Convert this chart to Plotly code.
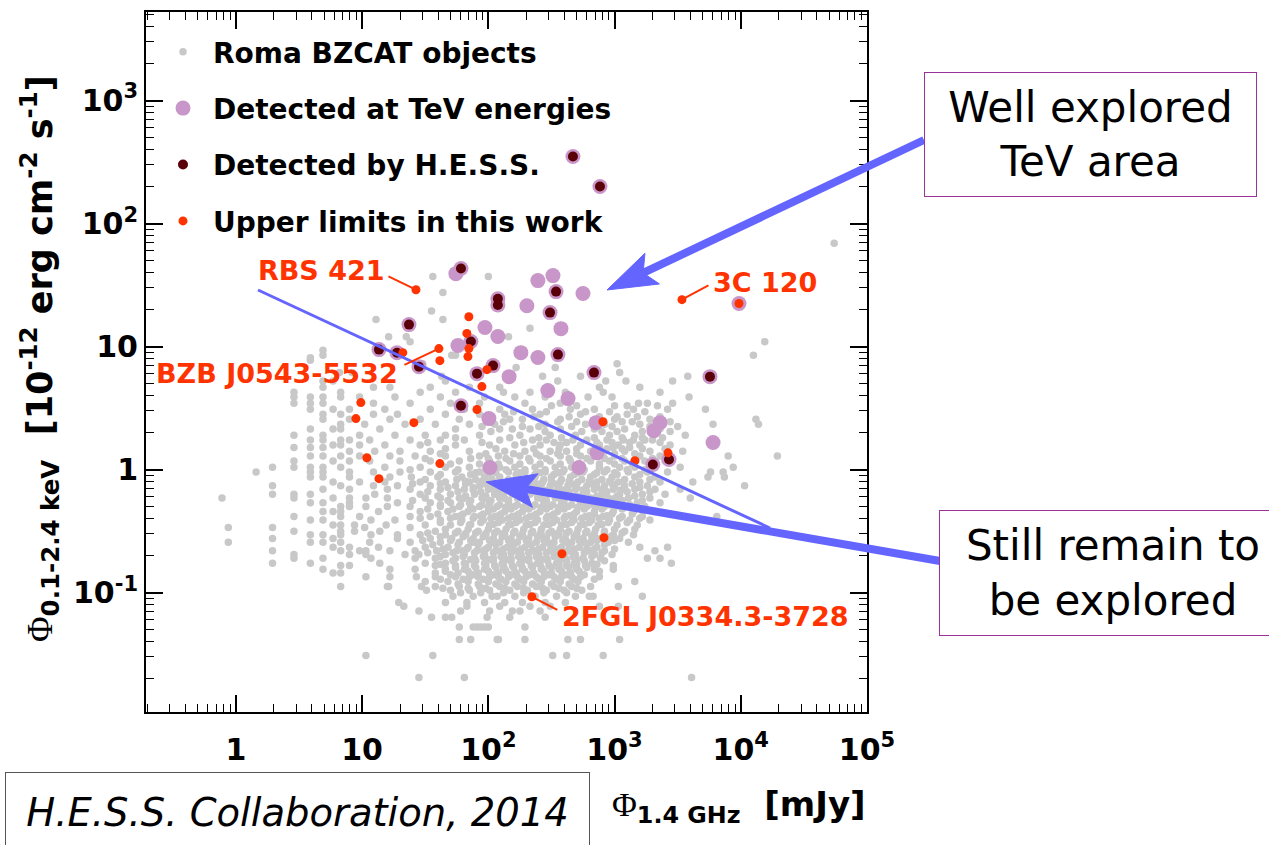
import math
import plotly.graph_objects as go

# ---------------------------------------------------------------------------
# Data: 1.4 GHz radio flux [mJy] vs 0.1-2.4 keV X-ray flux [1e-12 erg/cm2/s]
# ---------------------------------------------------------------------------

# Roma BZCAT catalogue, stored as rows of (log10 X-ray flux, [log10 radio flux, ...])
GREY_SPARSE = [
    (1.84, [4.74]),
    (1.57, [1.56, 2.00]),
    (1.44, [1.64]),
    (1.29, [1.55]),
    (1.22, [1.11, 1.64]),
    (1.15, [2.33]),
    (1.08, [1.21, 1.35, 2.16]),
    (1.04, [1.38, 4.19]),
    (0.97, [0.69]),
    (0.93, [0.69, 1.71, 1.74, 4.10]),
    (0.91, [0.59]),
    (0.89, [0.59]),
    (0.86, [1.48, 3.02]),
    (0.83, [2.22, 2.53]),
    (0.79, [0.82, 0.92, 3.04]),
    (0.76, [1.63, 2.43, 2.73, 3.58]),
    (0.72, [0.69, 0.77, 1.66, 2.55, 2.93, 3.09, 3.46]),
]

GREY_UPPER = [
    (0.67, [0.69, 1.09, 1.22, 1.54, 1.85, 2.09, 2.47, 2.88, 3.20]),
    (0.63, [0.46, 0.83, 1.46, 1.74, 2.12, 2.33, 2.61, 2.91, 3.36]),
    (0.59, [0.46, 0.59, 0.69, 0.83, 0.98, 1.26, 1.62, 1.97, 2.21, 2.45, 2.79, 2.98, 3.59]),
    (0.54, [0.46, 0.59, 0.69, 1.09, 1.38, 1.70, 1.93, 2.29, 2.57, 3.19, 3.26, 3.46]),
    (0.49, [0.59, 0.77, 0.90, 1.18, 1.54, 1.81, 2.09, 2.35, 2.65, 2.84, 3.15, 3.42, 3.72]),
    (0.45, [0.69, 0.83, 1.09, 1.28, 1.66, 1.93, 2.13, 2.41, 2.73, 3.10]),
    (0.41, [0.69, 0.90, 1.22, 1.46, 1.77, 2.17, 2.27, 2.57, 3.00, 3.28, 4.12]),
    (0.37, [0.83, 1.02, 1.34, 1.58, 1.85, 2.05, 2.45, 2.77, 2.92, 3.20, 3.78, 4.14]),
    (0.33, [0.59, 0.77, 0.83, 1.14, 1.74, 2.09, 2.19, 2.33, 2.57, 2.84, 3.08, 3.36]),
    (0.28, [0.46, 0.69, 0.98, 1.26, 1.50, 1.66, 1.93, 2.25, 2.49, 2.69, 2.96, 3.16, 3.56]),
    (0.24, [0.59, 0.69, 0.83, 0.90, 1.06, 1.38, 1.62, 1.81, 2.09, 2.35, 2.46, 2.67, 2.78,
            2.94, 3.07, 3.15, 3.24, 3.30]),
    (0.20, [0.77, 0.83, 0.98, 1.18, 1.46, 1.74, 2.01, 2.21, 2.41, 2.57, 2.73, 2.88, 3.03,
            3.20, 3.44]),
    (0.18, [0.46, 0.59, 0.69, 2.99, 3.12]),
    (0.15, [0.90, 1.10, 1.30, 1.54, 1.85, 2.13, 2.29, 2.49, 2.62, 2.81, 2.92, 3.08, 3.28, 3.54]),
    (0.11, [0.59, 0.69, 0.83, 0.98, 1.22, 1.42, 1.66, 1.93, 2.08, 2.25, 2.41, 2.57, 2.73,
            2.86, 3.00, 3.20, 3.36, 3.90, 4.29]),
    (0.07, [0.46, 0.77, 0.90, 1.06, 1.30, 1.54, 1.77, 2.01, 2.17, 2.33, 2.49, 2.65, 2.81,
            2.96, 3.08, 3.24, 3.40]),
]

# Additional sources in the upper part of the cloud
GREY_UPPER_FILL = [
    (0.52, [2.50, 2.70, 3.00, 3.10, 3.34]),
    (0.47, [2.20, 2.46, 2.77, 2.96, 3.24]),
    (0.43, [2.03, 2.36, 2.64, 2.88, 3.02, 3.18, 3.36]),
    (0.39, [2.12, 2.55, 2.70, 3.06, 3.14, 3.44]),
    (0.35, [1.95, 2.27, 2.40, 2.66, 2.98, 3.28, 3.50]),
    (0.31, [2.02, 2.45, 2.74, 2.90, 3.02, 3.22, 3.44]),
    (0.26, [1.74, 2.17, 2.40, 2.58, 2.84, 3.06, 3.22, 3.38]),
    (0.22, [1.52, 1.95, 2.28, 2.52, 2.62, 2.86, 2.98, 3.12, 3.36]),
    (0.17, [1.66, 2.06, 2.36, 2.56, 2.70, 2.94, 3.06, 3.22, 3.40]),
]

GREY_MIDDLE = [
    (0.02, [0.29, 0.46, 0.59, 0.69, 0.83, 1.18, 1.46, 1.66, 1.85, 2.09, 2.21, 2.37, 2.53,
            2.66, 2.88, 3.04, 3.16, 3.32, 3.52, 3.94]),
    (-0.02, [0.16, 0.59, 0.69, 0.90, 1.09, 1.30, 1.54, 1.74, 1.93, 2.03, 2.16, 2.29, 2.45,
             2.59, 2.75, 2.92, 3.11, 3.26, 3.42, 3.76, 3.86]),
    (-0.06, [0.59, 0.69, 0.90, 1.22, 1.39, 1.60, 1.79, 1.97, 2.09, 2.23, 2.37, 2.50, 2.65,
             2.81, 2.98, 3.16, 3.32, 3.74, 3.87]),
    (-0.10, [0.77, 0.98, 1.18, 1.46, 1.66, 1.85, 2.01, 2.15, 2.29, 2.43, 2.57, 2.71, 2.86,
             3.03, 3.20, 3.36, 3.62]),
    (-0.13, [0.29, 0.83, 1.09, 1.28, 1.54, 1.74, 1.93, 2.07, 2.21, 2.35, 2.49, 2.63, 2.78,
             2.92, 3.08, 3.26, 4.03]),
    (-0.16, [0.69, 0.90, 1.20, 1.38, 1.62, 1.81, 2.00, 2.13, 2.27, 2.41, 2.55, 2.69, 2.84,
             2.99, 3.16, 3.32, 3.52]),
    (-0.20, [0.29, 0.46, 0.59, 1.10, 1.46, 1.70, 1.89, 2.05, 2.19, 2.33, 2.47, 2.61, 2.75,
             2.90, 3.04, 3.22, 3.40]),
    (-0.23, [-0.11, 0.46, 0.77, 0.90, 1.03, 1.20, 1.50, 1.62, 1.77, 1.95, 2.09, 2.23, 2.39,
             2.53, 2.66, 2.81, 2.95, 3.11, 3.28, 3.60]),
    (-0.27, [0.59, 0.69, 0.90, 1.28, 1.54, 1.70, 1.85, 2.01, 2.16, 2.30, 2.44, 2.58, 2.73,
             2.87, 3.02, 3.18, 3.36]),
    (-0.30, [0.83, 0.90, 1.03, 1.20, 1.38, 1.62, 1.77, 1.93, 2.07, 2.21, 2.35, 2.49, 2.63,
             2.78, 2.92, 3.08, 3.24]),
    (-0.34, [0.69, 0.77, 0.83, 1.13, 1.46, 1.68, 1.84, 2.00, 2.13, 2.27, 2.41, 2.55, 2.70,
             2.84, 2.99, 3.15, 3.32]),
    (-0.38, [0.46, 0.83, 0.98, 1.38, 1.54, 1.74, 1.89, 2.05, 2.19, 2.33, 2.47, 2.61, 2.77,
             2.91, 3.06, 3.22, 3.81]),
    (-0.41, [0.59, 0.69, 1.07, 1.26, 1.62, 1.79, 1.96, 2.11, 2.25, 2.39, 2.54, 2.68, 2.82,
             2.96, 3.12, 3.28]),
    (-0.45, [0.77, 0.83, 0.94, 1.19, 1.50, 1.70, 1.85, 2.01, 2.16, 2.30, 2.44, 2.58, 2.73,
             2.87, 3.02, 3.18]),
    (-0.47, [-0.06, 0.29, 1.02, 1.38]),
    (-0.50, [0.46, 0.83, 0.94, 1.14, 1.58, 1.76, 1.92, 2.07, 2.21, 2.35, 2.50, 2.64, 2.78,
             2.92, 3.08]),
]

GREY_LOWER = [
    (-0.53, [0.59, 0.69, 0.83, 1.07, 1.28, 1.46, 1.66, 1.82, 1.98, 2.13, 2.27, 2.42, 2.56,
             2.70, 2.84, 2.99, 3.15]),
    (-0.56, [0.29, 0.77, 1.28, 1.54, 1.71, 1.88, 2.04, 2.18, 2.32, 2.46, 2.61, 2.75, 2.89,
             3.04]),
    (-0.59, [-0.06, 0.59, 0.69, 0.83, 1.06, 1.38, 1.62, 1.77, 1.93, 2.09, 2.23, 2.38, 2.52,
             2.66, 2.81, 2.95, 3.11]),
    (-0.63, [0.77, 0.90, 1.13, 1.50, 1.68, 1.84, 2.00, 2.15, 2.29, 2.43, 2.58, 2.72, 2.86,
             3.20, 3.42]),
    (-0.66, [0.29, 0.83, 0.98, 1.03, 1.22, 1.42, 1.59, 1.75, 1.91, 2.06, 2.20, 2.35, 2.49,
             2.63, 2.77, 2.92, 3.32]),
    (-0.69, [0.46, 0.90, 1.03, 1.34, 1.45, 1.66, 1.81, 1.97, 2.12, 2.26, 2.40, 2.54, 2.69,
             2.84, 2.98]),
    (-0.72, [0.46, 0.69, 1.07, 1.42, 1.58, 1.74, 1.89, 2.04, 2.18, 2.32, 2.46, 2.61, 2.75,
             2.89, 3.26, 3.36]),
    (-0.76, [0.29, 0.59, 1.14, 1.50, 1.66, 1.81, 1.97, 2.11, 2.25, 2.39, 2.54, 2.68, 2.82,
             3.45]),
    (-0.78, [0.83, 0.90, 1.58, 1.74, 1.89, 2.05, 2.19, 2.34, 2.48, 2.62, 2.77, 2.99]),
    (-0.81, [0.69, 1.22, 1.42, 1.66, 1.81, 1.97, 2.13, 2.27, 2.42, 2.56, 2.70, 2.84, 2.99]),
    (-0.84, [0.77, 0.83, 1.58, 1.76, 1.92, 2.08, 2.22, 2.36, 2.50, 2.65]),
    (-0.87, [1.03, 1.22, 1.43, 1.58, 1.74, 1.85, 2.01, 2.16, 2.30, 2.44, 2.58, 2.73, 2.88]),
    (-0.91, [1.50, 1.68, 1.84, 2.00, 2.14, 2.28, 2.42, 2.57, 2.71, 3.16]),
    (-0.95, [0.83, 1.20, 1.21, 1.47, 1.58, 1.77, 1.93, 2.09, 2.23, 2.38, 2.52, 2.66, 2.81,
             3.03]),
    (-0.98, [1.51, 1.70, 1.85, 2.01, 2.17, 2.31, 2.46, 2.60, 2.74]),
    (-1.03, [1.72, 1.88, 2.03, 2.07, 2.21, 2.37, 2.54, 2.69, 2.80, 2.83, 3.22]),
    (-1.08, [1.29, 1.66, 1.83, 1.97, 2.13, 2.27, 2.45, 2.61]),
    (-1.11, [1.33, 1.83, 2.09, 2.33, 2.49, 2.88, 3.03]),
    (-1.15, [1.45, 1.78, 2.01, 2.19, 2.25, 2.41]),
    (-1.20, [1.55, 1.66, 1.71, 1.99, 2.17, 2.45]),
    (-1.28, [1.77, 1.88, 1.91, 1.94, 1.97, 2.00, 2.29]),
    (-1.38, [1.77, 1.86, 2.07, 2.08, 2.29, 2.63, 2.73, 3.04]),
    (-1.51, [1.03, 1.56, 2.51, 2.62, 2.91]),
    (-1.69, [1.45, 1.81, 3.61]),
]

# Densely populated centre of the catalogue
GREY_CORE = [
    (0.13, [1.62, 1.98, 2.20, 2.38, 2.55, 2.70, 2.85, 3.00, 3.16]),
    (0.09, [1.50, 1.86, 2.00, 2.14, 2.32, 2.46, 2.64, 2.78, 2.92, 3.06, 3.30]),
    (0.045, [1.70, 1.93, 2.08, 2.25, 2.41, 2.57, 2.72, 2.88, 3.00, 3.14]),
    (0.00, [1.38, 1.76, 1.98, 2.14, 2.29, 2.45, 2.60, 2.76, 2.94, 3.10, 3.24]),
    (-0.04, [1.62, 1.86, 2.00, 2.22, 2.37, 2.52, 2.68, 2.84, 3.02, 3.20]),
    (-0.08, [1.50, 1.75, 1.90, 2.03, 2.16, 2.30, 2.44, 2.58, 2.74, 2.90, 3.08, 3.28]),
    (-0.115, [1.40, 1.62, 1.82, 1.97, 2.10, 2.24, 2.38, 2.52, 2.66, 2.82, 2.98, 3.14]),
    (-0.145, [1.68, 1.88, 2.02, 2.15, 2.28, 2.42, 2.56, 2.70, 2.86, 3.00, 3.20]),
    (-0.18, [1.52, 1.76, 1.94, 2.08, 2.22, 2.36, 2.50, 2.64, 2.78, 2.94, 3.10, 3.28]),
    (-0.215, [1.60, 1.82, 1.98, 2.12, 2.26, 2.40, 2.55, 2.70, 2.86, 3.02, 3.16]),
    (-0.25, [1.40, 1.68, 1.86, 2.02, 2.16, 2.30, 2.46, 2.60, 2.75, 2.90, 3.06, 3.22]),
    (-0.285, [1.62, 1.78, 1.95, 2.09, 2.23, 2.37, 2.51, 2.66, 2.80, 2.96, 3.12]),
    (-0.32, [1.52, 1.72, 1.88, 2.04, 2.18, 2.32, 2.46, 2.60, 2.76, 2.90, 3.06, 3.22]),
    (-0.36, [1.60, 1.80, 1.96, 2.10, 2.24, 2.38, 2.52, 2.68, 2.84, 2.98, 3.14]),
    (-0.395, [1.46, 1.70, 1.88, 2.02, 2.16, 2.30, 2.46, 2.60, 2.74, 2.88, 3.04, 3.20]),
    (-0.43, [1.62, 1.78, 1.94, 2.08, 2.22, 2.37, 2.51, 2.66, 2.80, 2.95, 3.10]),
    (-0.485, [1.66, 1.84, 2.00, 2.14, 2.28, 2.42, 2.57, 2.71, 2.85, 3.00, 3.16]),
    (-0.515, [1.52, 1.74, 1.90, 2.05, 2.20, 2.34, 2.48, 2.62, 2.77, 2.92, 3.06]),
    (-0.545, [1.62, 1.80, 1.96, 2.11, 2.25, 2.39, 2.53, 2.68, 2.82, 2.97]),
    (-0.575, [1.48, 1.70, 1.86, 2.01, 2.16, 2.30, 2.44, 2.59, 2.72, 2.86, 3.00]),
    (-0.61, [1.56, 1.76, 1.92, 2.06, 2.20, 2.34, 2.49, 2.64, 2.78, 2.92]),
    (-0.645, [1.64, 1.83, 1.98, 2.12, 2.26, 2.40, 2.54, 2.68, 2.84, 3.00]),
    (-0.675, [1.52, 1.72, 1.89, 2.04, 2.18, 2.32, 2.46, 2.61, 2.76, 2.90]),
    (-0.705, [1.62, 1.80, 1.96, 2.10, 2.24, 2.38, 2.52, 2.67, 2.82]),
    (-0.74, [1.72, 1.90, 2.04, 2.18, 2.32, 2.47, 2.62, 2.76, 2.92]),
    (-0.77, [1.62, 1.82, 1.98, 2.12, 2.26, 2.41, 2.56, 2.70, 2.86]),
    (-0.795, [1.74, 1.90, 2.06, 2.20, 2.35, 2.50, 2.64, 2.78]),
    (-0.825, [1.66, 1.84, 2.00, 2.14, 2.29, 2.44, 2.58, 2.72, 2.88]),
    (-0.855, [1.70, 1.88, 2.04, 2.18, 2.33, 2.48, 2.62, 2.76]),
    (-0.89, [1.62, 1.80, 1.96, 2.10, 2.25, 2.40, 2.54, 2.68, 2.84]),
    (-0.93, [1.76, 1.92, 2.06, 2.21, 2.35, 2.50, 2.64]),
    (-0.965, [1.64, 1.84, 1.98, 2.13, 2.28, 2.43, 2.56, 2.70]),
    (-1.00, [1.78, 1.94, 2.12, 2.28, 2.44, 2.62]),
]

GREY_CORE_DENSE = [
    (-0.025, [1.90, 2.06, 2.25, 2.41, 2.56, 2.71, 2.86, 3.00]),
    (-0.095, [1.82, 1.95, 2.09, 2.23, 2.36, 2.50, 2.64, 2.80, 2.96]),
    (-0.165, [1.88, 2.05, 2.18, 2.32, 2.47, 2.60, 2.75, 2.90, 3.05]),
    (-0.235, [1.80, 1.98, 2.13, 2.28, 2.42, 2.57, 2.72, 2.86, 3.00]),
    (-0.305, [1.86, 2.00, 2.14, 2.28, 2.42, 2.56, 2.71, 2.85, 3.00]),
    (-0.375, [1.78, 1.94, 2.08, 2.22, 2.36, 2.50, 2.64, 2.80, 2.94]),
    (-0.445, [1.86, 2.04, 2.18, 2.33, 2.48, 2.62, 2.76, 2.90]),
    (-0.52, [1.82, 1.98, 2.12, 2.27, 2.41, 2.55, 2.70, 2.84]),
    (-0.59, [1.88, 2.03, 2.18, 2.32, 2.47, 2.62, 2.76]),
    (-0.66, [1.80, 1.96, 2.10, 2.24, 2.38, 2.52, 2.66, 2.80]),
    (-0.73, [1.86, 2.00, 2.14, 2.28, 2.42, 2.57, 2.70]),
    (-0.80, [1.82, 1.98, 2.12, 2.27, 2.42, 2.56, 2.70]),
    (-0.87, [1.92, 2.08, 2.23, 2.38, 2.52, 2.66]),
]

# Sources detected at TeV energies
TEV_RADIO = [468, 766, 60.7, 55.3, 247, 325, 344, 562, 119, 119, 202, 308, 94, 119, 376,
             9680, 23.5, 72.8, 57.4, 13.6, 18.9, 28.2, 109, 81.3, 181, 247, 356, 146, 687,
             5700, 296, 428, 60.7, 101, 713, 2290, 2050, 6030, 726, 2010, 2700, 103, 522]
TEV_XRAY = [351, 200, 43.1, 39.2, 34.4, 37.8, 28.0, 27.0, 24.5, 21.8, 21.5, 18.9, 14.3,
            12.1, 14.0, 22.4, 15.1, 11.0, 10.2, 9.46, 8.93, 6.87, 7.01, 6.03, 8.93, 8.15,
            8.61, 5.70, 6.15, 5.70, 4.39, 3.78, 3.31, 2.60, 2.41, 2.41, 2.07, 1.66, 1.37,
            1.10, 1.21, 1.04, 1.04]

# Sources detected by H.E.S.S.
HESS_RADIO = [468, 766, 60.7, 344, 119, 119, 308, 23.5, 72.8, 13.6, 18.9, 28.2, 109, 81.3,
              356, 687, 5700, 60.7, 2010, 2700]
HESS_XRAY = [351, 200, 43.1, 28.0, 24.5, 21.8, 18.9, 15.1, 11.0, 9.46, 8.93, 6.87, 7.01,
             6.03, 8.61, 6.15, 5.70, 3.31, 1.10, 1.21]

# Upper limits derived in this work
UL_RADIO = [26.7, 3420, 9680, 70.1, 67.6, 70.1, 68.9, 40.6, 41.3, 21.0, 97.5, 88.9, 81.3,
            9.77, 8.93, 25.7, 10.9, 41.3, 13.6, 809, 2650, 1450, 824, 383, 221]
UL_XRAY = [29.0, 24.1, 22.4, 17.5, 12.8, 9.64, 8.30, 9.64, 7.69, 8.93, 6.50, 4.73, 3.08,
           3.51, 2.60, 2.41, 1.25, 1.12, 0.845, 2.45, 1.37, 1.18, 0.280, 0.207, 0.0927]

# Named upper-limit sources: (name, index into UL arrays)
UL_LABELS = [("RBS 421", 0), ("3C 120", 1), ("BZB J0543-5532", 7), ("2FGL J0334.3-3728", 24)]

X_TICKS = [1, 10, 100, 1000, 10000, 100000]
X_TICKTEXT = ["1", "10", "10<sup>2</sup>", "10<sup>3</sup>", "10<sup>4</sup>", "10<sup>5</sup>"]
Y_TICKS = [0.1, 1, 10, 100, 1000]
Y_TICKTEXT = ["10<sup>-1</sup>", "1", "10", "10<sup>2</sup>", "10<sup>3</sup>"]

# ---------------------------------------------------------------------------
# Styling
# ---------------------------------------------------------------------------
W, H = 1269, 845
PL, PR, PT, PB = 146, 867, 12, 712          # plot-area edges in pixels

GREY = "#C8C8C8"
PINK = "#C896C8"
DARK = "#5A0008"
ORANGE = "#FF3300"
BLUE = "#6464FF"
BOX = "#993399"


def px(x):
    return (x - PL) / (PR - PL)


def py(y):
    return (PB - y) / (PB - PT)


def flatten(*blocks):
    xs, ys = [], []
    for block in blocks:
        for ly, lxs in block:
            for lx in lxs:
                xs.append(10 ** lx)
                ys.append(10 ** ly)
    return xs, ys


grey_x, grey_y = flatten(GREY_SPARSE, GREY_UPPER, GREY_UPPER_FILL, GREY_MIDDLE,
                         GREY_LOWER, GREY_CORE, GREY_CORE_DENSE)

fig = go.Figure()
fig.add_trace(go.Scatter(
    x=grey_x, y=grey_y, mode="markers", name="Roma BZCAT objects",
    legendgroup="a", marker=dict(size=7.5, color=GREY, line=dict(width=0)),
))
fig.add_trace(go.Scatter(
    x=TEV_RADIO, y=TEV_XRAY, mode="markers", name="Detected at TeV energies",
    legendgroup="b", marker=dict(size=15, color=PINK, line=dict(width=0)),
))
fig.add_trace(go.Scatter(
    x=HESS_RADIO, y=HESS_XRAY, mode="markers", name="Detected by H.E.S.S.",
    legendgroup="c", marker=dict(size=10, color=DARK, line=dict(width=0)),
))
fig.add_trace(go.Scatter(
    x=UL_RADIO, y=UL_XRAY, mode="markers", name="Upper limits in this work",
    legendgroup="d", marker=dict(size=9, color=ORANGE, line=dict(width=0)),
))

annotations = []

# Source names with leader lines
label_pos = {  # text centre (px) and far end of the leader line (px offset from point)
    "RBS 421": ((321, 270), (-29, -14)),
    "3C 120": ((765, 282), (28, -15)),
    "BZB J0543-5532": ((277, 373), (-36, 17)),
    "2FGL J0334.3-3728": ((705, 616), (27, 14)),
}
for name, idx in UL_LABELS:
    (tx, ty), (ax, ay) = label_pos[name]
    annotations.append(dict(
        x=px(tx), y=py(ty), xref="paper", yref="paper", text=name, showarrow=False,
        font=dict(family="DejaVu Sans", weight="bold", size=27, color=ORANGE),
        xanchor="center", yanchor="middle",
    ))
    annotations.append(dict(
        x=math.log10(UL_RADIO[idx]), y=math.log10(UL_XRAY[idx]), xref="x", yref="y",
        text="", showarrow=True, arrowhead=0, arrowwidth=2, arrowcolor=ORANGE,
        ax=ax, ay=ay, axref="pixel", ayref="pixel", standoff=3,
    ))

# Axis titles
annotations.append(dict(
    x=px(40), y=py(359), xref="paper", yref="paper", textangle=-90, showarrow=False,
    text=("<span style='font-family:Liberation Serif;font-weight:normal'>\u03a6</span>"
          "<sub>0.1-2.4 keV</sub>&nbsp;&nbsp;[10<sup>-12</sup> erg cm<sup>-2</sup> s<sup>-1</sup>]"),
    font=dict(family="DejaVu Sans", weight="bold", size=35, color="black"),
    xanchor="center", yanchor="middle",
))
annotations.append(dict(
    x=px(868), y=py(806), xref="paper", yref="paper", showarrow=False,
    text=("<span style='font-family:Liberation Serif;font-weight:normal'>\u03a6</span>"
          "<sub>1.4 GHz</sub>&nbsp;&nbsp;[mJy]"),
    font=dict(family="DejaVu Sans", weight="bold", size=34, color="black"),
    xanchor="right", yanchor="middle",
))

# Call-out boxes
annotations.append(dict(
    x=px(1090.5), y=py(134.5), xref="paper", yref="paper", showarrow=False,
    text="Well explored<br>TeV area", width=331, height=123, borderpad=0,
    bordercolor=BOX, borderwidth=1, bgcolor="white",
    font=dict(family="DejaVu Sans", size=42, color="black"),
    xanchor="center", yanchor="middle",
))
annotations.append(dict(
    x=px(1113), y=py(573), xref="paper", yref="paper", showarrow=False,
    text="Still remain to<br>be explored", width=346, height=124, borderpad=0,
    bordercolor=BOX, borderwidth=1, bgcolor="white",
    font=dict(family="DejaVu Sans", size=42, color="black"),
    xanchor="center", yanchor="middle",
))
annotations.append(dict(
    x=px(297.5), y=py(812), xref="paper", yref="paper", showarrow=False,
    text="<i>H.E.S.S. Collaboration, 2014</i>", width=583, height=78, borderpad=0,
    bordercolor="#555555", borderwidth=1, bgcolor="white",
    font=dict(family="DejaVu Sans", size=38.5, color="black"),
    xanchor="center", yanchor="middle",
))

# Blue pointer arrows (pixel geometry converted to paper coordinates)
shapes = []


def pointer(tail, tip, width, head_len=50, head_half=17, notch=40):
    dx, dy = tail[0] - tip[0], tail[1] - tip[1]
    n = math.hypot(dx, dy)
    ux, uy = dx / n, dy / n
    vx, vy = -uy, ux
    base = (tip[0] + notch * ux, tip[1] + notch * uy)
    c1 = (tip[0] + head_len * ux + head_half * vx, tip[1] + head_len * uy + head_half * vy)
    c2 = (tip[0] + head_len * ux - head_half * vx, tip[1] + head_len * uy - head_half * vy)
    shapes.append(dict(type="line", xref="paper", yref="paper",
                       x0=px(tail[0]), y0=py(tail[1]), x1=px(base[0]), y1=py(base[1]),
                       line=dict(color=BLUE, width=width), layer="above"))
    pts = [tip, c1, base, c2]
    path = "M " + " L ".join(f"{px(a):.5f},{py(b):.5f}" for a, b in pts) + " Z"
    shapes.append(dict(type="path", xref="paper", yref="paper", path=path,
                       fillcolor=BLUE, line=dict(color=BLUE, width=1), layer="above"))


shapes.append(dict(type="line", xref="paper", yref="paper",
                   x0=px(258), y0=py(290), x1=px(770), y1=py(528),
                   line=dict(color=BLUE, width=3), layer="above"))
pointer((924, 140), (607, 290), 8)
pointer((940, 561), (486, 482), 8)

minor_vals = [m * 10 ** e for e in range(-2, 5) for m in range(2, 10)]

axis_common = dict(
    type="log", showgrid=False, zeroline=False,
    showline=True, linecolor="black", linewidth=2, mirror="ticks",
    ticks="inside", ticklen=17, tickwidth=1.5, tickcolor="black",
    tickfont=dict(family="DejaVu Sans", weight="bold", size=30, color="black"),
    minor=dict(tickvals=minor_vals, ticks="inside", ticklen=8, tickwidth=1.2,
               tickcolor="black", showgrid=False),
)

fig.update_layout(
    width=W, height=H,
    margin=dict(l=PL, r=W - PR, t=PT, b=H - PB, autoexpand=False),
    paper_bgcolor="white", plot_bgcolor="white",
    xaxis=dict(axis_common, range=[math.log10(0.194), 5.0],
               tickvals=X_TICKS, ticktext=X_TICKTEXT, ticklabelstandoff=10),
    yaxis=dict(axis_common, range=[-1.97, 3.72],
               tickvals=Y_TICKS, ticktext=Y_TICKTEXT, ticklabelstandoff=0),
    legend=dict(
        x=px(153), y=py(27), xanchor="left", yanchor="top",
        bgcolor="rgba(0,0,0,0)", borderwidth=0, itemwidth=50,
        font=dict(family="DejaVu Sans", weight="bold", size=28, color="black"),
        traceorder="grouped", tracegroupgap=17, itemsizing="trace",
    ),
    annotations=annotations,
    shapes=shapes,
    showlegend=True,
)

fig.write_html("out.html", config={"displayModeBar": False})
